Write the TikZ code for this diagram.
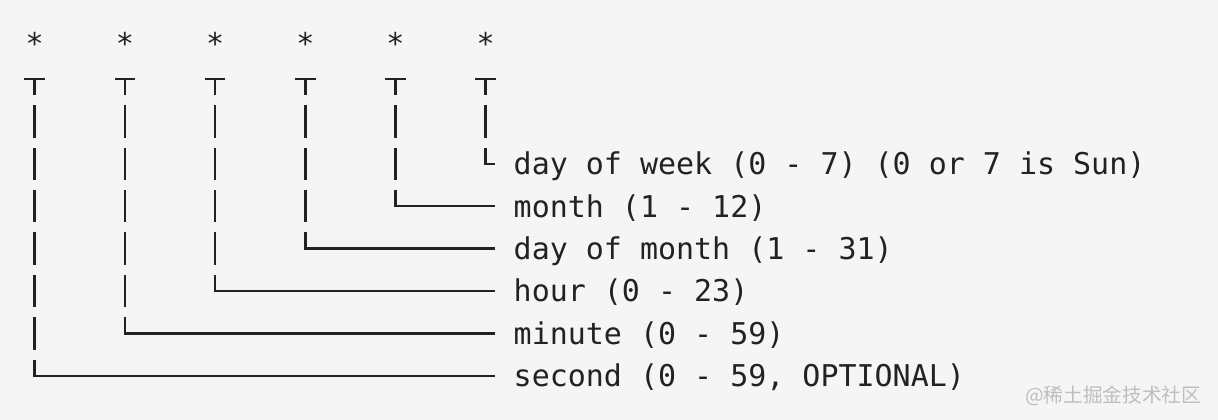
\documentclass[tikz,border=0pt]{standalone}
\usepackage{fontspec}
\setmonofont{DejaVu Sans Mono}
\newfontfamily\cjkfont{Noto Sans CJK SC}
\usetikzlibrary{calc}
\definecolor{ink}{RGB}{34,34,34}
\definecolor{paper}{RGB}{245,245,245}
\definecolor{mark}{RGB}{190,190,190}
\tikzset{
  field/.style={font=\ttfamily\fontsize{8.53pt}{10pt}\selectfont, text=ink, inner ysep=0pt},
  star/.style={field, anchor=base, inner xsep=0pt},
  label/.style={field, anchor=base west, inner xsep=0.19cm},
  wire/.style={draw=ink, line width=0.7pt, line cap=rect},
  stem/.style={wire, dash pattern=on 0.30cm off 0.124cm, dash phase=0.15cm}
}
\begin{document}
\begin{tikzpicture}
        % Page
        \fill[paper] (0,0) rectangle (12.18,-4.20);
        \useasboundingbox (0,0) rectangle (12.18,-4.20);

        % Stars
        \node[star] (st0) at (0.347,-0.55) {*};
        \node[star] (st1) at (1.249,-0.55) {*};
        \node[star] (st2) at (2.151,-0.55) {*};
        \node[star] (st3) at (3.053,-0.55) {*};
        \node[star] (st4) at (3.955,-0.55) {*};
        \node[star] (st5) at (4.857,-0.55) {*};

        % Tops and elbows
        \coordinate (t0) at ($(st0.base)+(0,-0.24)$);
        \coordinate (t1) at ($(st1.base)+(0,-0.24)$);
        \coordinate (t2) at ($(st2.base)+(0,-0.24)$);
        \coordinate (t3) at ($(st3.base)+(0,-0.24)$);
        \coordinate (t4) at ($(st4.base)+(0,-0.24)$);
        \coordinate (t5) at ($(st5.base)+(0,-0.24)$);
        \coordinate (c0) at (0.347,-3.758);
        \coordinate (c1) at (1.249,-3.334);
        \coordinate (c2) at (2.151,-2.910);
        \coordinate (c3) at (3.053,-2.486);
        \coordinate (c4) at (3.955,-2.062);
        \coordinate (c5) at (4.857,-1.638);

        % Fields
        \node[label] (l5) at (4.94,-1.748) {day of week (0 - 7) (0 or 7 is Sun)};
        \node[label] (l4) at (4.94,-2.172) {month (1 - 12)};
        \node[label] (l3) at (4.94,-2.596) {day of month (1 - 31)};
        \node[label] (l2) at (4.94,-3.020) {hour (0 - 23)};
        \node[label] (l1) at (4.94,-3.444) {minute (0 - 59)};
        \node[label] (l0) at (4.94,-3.868) {second (0 - 59, OPTIONAL)};

        % Bars under the stars
        \draw[wire] ([xshift=-0.09cm]t0) -- ([xshift=0.09cm]t0);
        \draw[wire] ([xshift=-0.09cm]t1) -- ([xshift=0.09cm]t1);
        \draw[wire] ([xshift=-0.09cm]t2) -- ([xshift=0.09cm]t2);
        \draw[wire] ([xshift=-0.09cm]t3) -- ([xshift=0.09cm]t3);
        \draw[wire] ([xshift=-0.09cm]t4) -- ([xshift=0.09cm]t4);
        \draw[wire] ([xshift=-0.09cm]t5) -- ([xshift=0.09cm]t5);

        % Down to the row
        \draw[stem] (t0) -- (c0);
        \draw[stem] (t1) -- (c1);
        \draw[stem] (t2) -- (c2);
        \draw[stem] (t3) -- (c3);
        \draw[stem] (t4) -- (c4);
        \draw[stem] (t5) -- (c5);

        % Over to the field
        \draw[wire] (c0) -- (c0 -| l0.west);
        \draw[wire] (c1) -- (c1 -| l1.west);
        \draw[wire] (c2) -- (c2 -| l2.west);
        \draw[wire] (c3) -- (c3 -| l3.west);
        \draw[wire] (c4) -- (c4 -| l4.west);
        \draw[wire] (c5) -- (c5 -| l5.west);

        % Watermark
        \node[anchor=east, text=mark, inner sep=0pt, font=\cjkfont\fontsize{5.6pt}{6pt}\selectfont] (wm) at (12.02,-3.96) {@稀土掘金技术社区};
\end{tikzpicture}
\end{document}
